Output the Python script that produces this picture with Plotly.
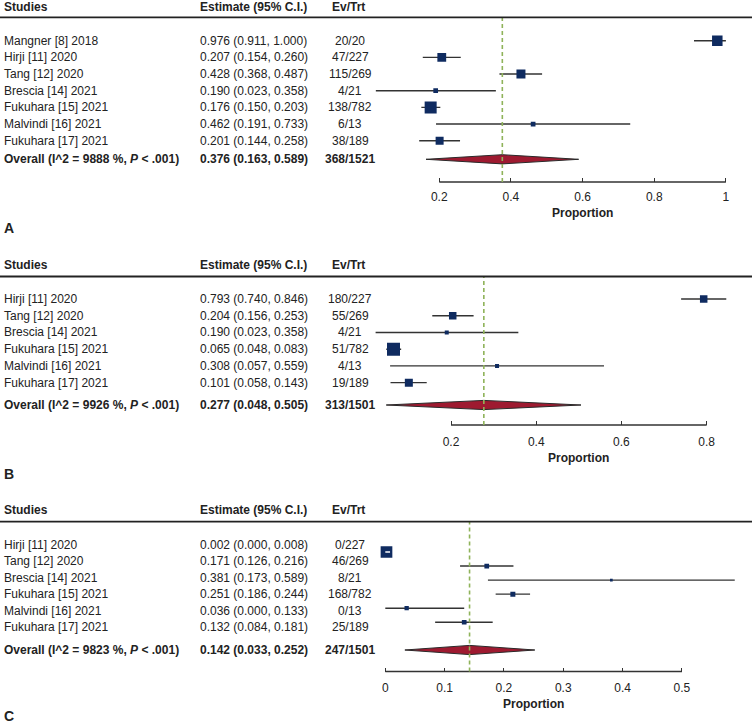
import plotly.graph_objects as go

W, H = 752, 728
FONT = "Liberation Sans, Arial, Helvetica, sans-serif"
TXT = "#222222"

# ---------------- DATA ----------------
# Panel A
studies_a = ["Mangner [8] 2018", "Hirji [11] 2020", "Tang [12] 2020", "Brescia [14] 2021",
             "Fukuhara [15] 2021", "Malvindi [16] 2021", "Fukuhara [17] 2021"]
est_a = [0.976, 0.207, 0.428, 0.190, 0.176, 0.462, 0.201]
lo_a = [0.911, 0.154, 0.368, 0.023, 0.150, 0.191, 0.144]
hi_a = [1.000, 0.260, 0.487, 0.358, 0.203, 0.733, 0.258]
point_a = [0.976, 0.207, 0.428, 0.190, 0.176, 0.462, 0.201]
evtrt_a = ["20/20", "47/227", "115/269", "4/21", "138/782", "6/13", "38/189"]
weight_a = [10.5, 8.8, 9.0, 4.7, 12.0, 4.7, 8.0]
overall_a = [0.376, 0.163, 0.589]
overall_evtrt_a = "368/1521"
i2_a = "9888"
ticks_a = [0.2, 0.4, 0.6, 0.8, 1.0]
ticktext_a = ["0.2", "0.4", "0.6", "0.8", "1"]

# Panel B
studies_b = ["Hirji [11] 2020", "Tang [12] 2020", "Brescia [14] 2021",
             "Fukuhara [15] 2021", "Malvindi [16] 2021", "Fukuhara [17] 2021"]
est_b = [0.793, 0.204, 0.190, 0.065, 0.308, 0.101]
lo_b = [0.740, 0.156, 0.023, 0.048, 0.057, 0.058]
hi_b = [0.846, 0.253, 0.358, 0.083, 0.559, 0.143]
point_b = [0.793, 0.204, 0.190, 0.065, 0.308, 0.101]
evtrt_b = ["180/227", "55/269", "4/21", "51/782", "4/13", "19/189"]
weight_b = [7.5, 7.5, 4.0, 13.0, 4.0, 8.0]
overall_b = [0.277, 0.048, 0.505]
overall_evtrt_b = "313/1501"
i2_b = "9926"
ticks_b = [0.2, 0.4, 0.6, 0.8]
ticktext_b = ["0.2", "0.4", "0.6", "0.8"]

# Panel C
studies_c = ["Hirji [11] 2020", "Tang [12] 2020", "Brescia [14] 2021",
             "Fukuhara [15] 2021", "Malvindi [16] 2021", "Fukuhara [17] 2021"]
est_c = [0.002, 0.171, 0.381, 0.251, 0.036, 0.132]
lo_c = [0.000, 0.126, 0.173, 0.186, 0.000, 0.084]
hi_c = [0.008, 0.216, 0.589, 0.244, 0.133, 0.181]
point_c = [0.002, 0.171, 0.381, 0.215, 0.036, 0.133]
evtrt_c = ["0/227", "46/269", "8/21", "168/782", "0/13", "25/189"]
weight_c = [11.7, 4.7, 2.7, 5.0, 4.3, 4.7]
overall_c = [0.142, 0.033, 0.252]
overall_evtrt_c = "247/1501"
i2_c = "9823"
ticks_c = [0, 0.1, 0.2, 0.3, 0.4, 0.5]
ticktext_c = ["0", "0.1", "0.2", "0.3", "0.4", "0.5"]

# ---------------- LAYOUT (pixel geometry) ----------------
panels = [
    dict(name="A", studies=studies_a, est=est_a, lo=lo_a, hi=hi_a, pt=point_a, ev=evtrt_a,
         w=weight_a, ov=overall_a, ov_ev=overall_evtrt_a, i2=i2_a, ticks=ticks_a, ticktext=ticktext_a,
         head_txt=7, head_line=17.3, axis=182, first=40.7, step=16.67, ov_px=159.3,
         txt_first=40.7, txt_step=16.67, prop=212.5, label=228, x0=367.6, ppu=358.3, standoff=6),
    dict(name="B", studies=studies_b, est=est_b, lo=lo_b, hi=hi_b, pt=point_b, ev=evtrt_b,
         w=weight_b, ov=overall_b, ov_ev=overall_evtrt_b, i2=i2_b, ticks=ticks_b, ticktext=ticktext_b,
         head_txt=265, head_line=276.5, axis=425, first=299, step=16.73, ov_px=405,
         txt_first=299, txt_step=16.73, prop=458.3, label=474, x0=365.8, ppu=426.1, standoff=8),
    dict(name="C", studies=studies_c, est=est_c, lo=lo_c, hi=hi_c, pt=point_c, ev=evtrt_c,
         w=weight_c, ov=overall_c, ov_ev=overall_evtrt_c, i2=i2_c, ticks=ticks_c, ticktext=ticktext_c,
         head_txt=510, head_line=521.7, axis=671.5, first=552, step=14.05, ov_px=650,
         txt_first=545, txt_step=16.4, prop=704, label=716, x0=385.3, ppu=593.3, standoff=7),
]

X_LEFT = 360  # left edge of the forest area (px)
BOX_COLOR = "#0f2b60"
LINE_COLOR = "#333333"
DIAMOND_FILL = "#9e1a30"
DASH_COLOR = "#8fb35a"
DIAMOND_HALF_PX = 4.6


def py(px):
    return 1 - px / H


fig = go.Figure()
shapes = []
annotations = []
layout_axes = {}

for k, p in enumerate(panels):
    sfx = "" if k == 0 else str(k + 1)
    xa, ya = "x" + sfx, "y" + sfx
    n = len(p["studies"])
    rows = list(range(n))
    ov_row = (p["ov_px"] - p["first"]) / p["step"]

    # CI lines
    lx, ly = [], []
    for i in rows:
        lx += [p["lo"][i], p["hi"][i], None]
        ly += [i, i, None]
    fig.add_trace(go.Scatter(x=lx, y=ly, mode="lines", xaxis=xa, yaxis=ya,
                             line=dict(color=LINE_COLOR, width=1.4), hoverinfo="skip",
                             showlegend=False))
    # boxes
    fig.add_trace(go.Scatter(x=p["pt"], y=rows, mode="markers", xaxis=xa, yaxis=ya,
                             marker=dict(symbol="square", size=p["w"], color=BOX_COLOR,
                                         opacity=1, line=dict(color=BOX_COLOR, width=0)),
                             showlegend=False))
    # CI narrower than the box: drawn in white on top (forestplot style)
    wx, wy = [], []
    for i in rows:
        if (p["hi"][i] - p["lo"][i]) * p["ppu"] < p["w"][i]:
            wx += [p["lo"][i], p["hi"][i], None]
            wy += [i, i, None]
    if wx:
        fig.add_trace(go.Scatter(x=wx, y=wy, mode="lines", xaxis=xa, yaxis=ya,
                                 line=dict(color="white", width=1.4), hoverinfo="skip",
                                 showlegend=False))
    # overall diamond
    est, lo, hi = p["ov"]
    hh = DIAMOND_HALF_PX / p["step"]
    fig.add_trace(go.Scatter(x=[lo, est, hi, est, lo], y=[ov_row, ov_row - hh, ov_row, ov_row + hh, ov_row],
                             mode="lines", fill="toself", fillcolor=DIAMOND_FILL,
                             line=dict(color="#2a2a2a", width=1), xaxis=xa, yaxis=ya,
                             hoverinfo="skip", showlegend=False))

    # axes
    layout_axes["xaxis" + sfx] = dict(
        domain=[X_LEFT / W, 1], range=[(X_LEFT - p["x0"]) / p["ppu"], (W - p["x0"]) / p["ppu"]],
        anchor=ya, tickvals=p["ticks"], ticktext=p["ticktext"], ticks="inside", ticklen=4,
        tickwidth=1.4, tickcolor=LINE_COLOR, showgrid=False, zeroline=False, showline=False,
        tickfont=dict(family=FONT, size=12, color=TXT), ticklabelstandoff=p["standoff"],
        fixedrange=True)
    layout_axes["yaxis" + sfx] = dict(
        domain=[py(p["axis"]), py(p["head_line"])],
        range=[(p["axis"] - p["first"]) / p["step"], (p["head_line"] - p["first"]) / p["step"]],
        anchor=xa, visible=False, fixedrange=True)

    # axis line over tick range
    shapes.append(dict(type="line", xref=xa, yref=ya + " domain", x0=p["ticks"][0], x1=p["ticks"][-1],
                       y0=0, y1=0, line=dict(color=LINE_COLOR, width=1.5)))
    # dashed summary line
    shapes.append(dict(type="line", xref=xa, yref=ya + " domain", x0=est, x1=est, y0=0, y1=1,
                       line=dict(color=DASH_COLOR, width=1.6, dash="4px,3px"), layer="above"))
    # header rule
    shapes.append(dict(type="line", xref="paper", yref="paper", x0=0, x1=1,
                       y0=py(p["head_line"]), y1=py(p["head_line"]),
                       line=dict(color="#222222", width=1.8)))

    def ann(text, xpx, ypx, anchor="left", size=12):
        annotations.append(dict(text=text, xref="paper", yref="paper", x=xpx / W, y=py(ypx),
                                xanchor=anchor, yanchor="middle", showarrow=False,
                                font=dict(family=FONT, size=size, color=TXT)))

    # headers
    ann("<b>Studies</b>", 1.5, p["head_txt"])
    ann("<b>Estimate (95% C.I.)</b>", 197.5, p["head_txt"])
    ann("<b>Ev/Trt</b>", 348.5, p["head_txt"], anchor="center")
    # rows
    for i in rows:
        ty = p["txt_first"] + i * p["txt_step"]
        ann(p["studies"][i], 1.5, ty)
        ann("%.3f (%.3f, %.3f)" % (p["est"][i], p["lo"][i], p["hi"][i]), 197.5, ty)
        ann(p["ev"][i], 350, ty, anchor="center")
    ann("<b>Overall (I^2 = %s %%, <i>P</i> &lt; .001)</b>" % p["i2"], 1.5, p["ov_px"])
    ann("<b>%.3f (%.3f, %.3f)</b>" % (est, lo, hi), 197.5, p["ov_px"])
    ann("<b>%s</b>" % p["ov_ev"], 350, p["ov_px"], anchor="center")
    # x title
    annotations.append(dict(text="<b>Proportion</b>", xref=xa, yref="paper",
                            x=(p["ticks"][0] + p["ticks"][-1]) / 2, y=py(p["prop"]),
                            xanchor="center", yanchor="middle", showarrow=False,
                            font=dict(family=FONT, size=12, color=TXT)))
    # panel label
    ann("<b>%s</b>" % p["name"], 2, p["label"], size=14)

fig.update_layout(width=W, height=H, margin=dict(l=0, r=0, t=0, b=0),
                  paper_bgcolor="white", plot_bgcolor="rgba(0,0,0,0)",
                  shapes=shapes, annotations=annotations, showlegend=False,
                  font=dict(family=FONT, color=TXT), **layout_axes)

fig.write_html("out.html", config={"displayModeBar": False},
               post_script="document.body.style.margin='0';document.body.style.overflow='hidden';")
